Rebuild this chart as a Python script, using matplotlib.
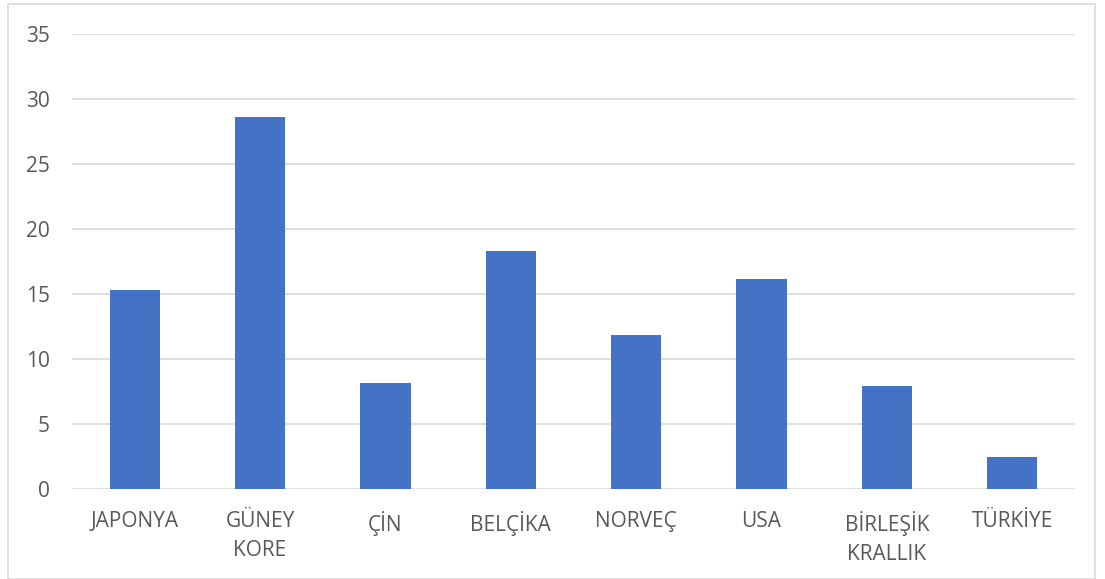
import matplotlib
matplotlib.use("Agg")
import matplotlib.pyplot as plt
from matplotlib.patches import Rectangle

# Ülkelere göre değerler
ulkeler = ["JAPONYA", "GÜNEY\nKORE", "ÇİN", "BELÇİKA", "NORVEÇ", "USA", "BİRLEŞİK\nKRALLIK", "TÜRKİYE"]
degerler = [15.3, 28.6, 8.1, 18.3, 11.8, 16.1, 7.9, 2.4]
y_ticks = [0, 5, 10, 15, 20, 25, 30, 35]

plt.rcParams['font.family'] = ['Open Sans', 'DejaVu Sans']

fig = plt.figure(figsize=(11.05, 5.79), dpi=100)
ax = fig.add_axes([72/1105, 1 - 488.7/579, (1075-72)/1105, (488.7-33.5)/579])

x = range(len(ulkeler))
ax.bar(x, degerler, width=0.4, color="#4472c4", zorder=3)

ax.set_xlim(-0.5, len(ulkeler) - 0.5)
ax.set_ylim(0, 35)
ax.set_yticks(y_ticks)
ax.set_xticks(list(x))
ax.set_xticklabels(ulkeler, linespacing=1.5)
ax.grid(axis="y", color="#d9d9d9", linewidth=1.2, zorder=0)
ax.tick_params(axis="y", length=0, pad=16, labelsize=15, labelcolor="#595959")
ax.tick_params(axis="x", length=0, pad=16, labelsize=15, labelcolor="#595959")
for s in ax.spines.values():
    s.set_visible(False)

# dış çerçeve
fig.patches.append(Rectangle((8/1105, 0), (1095-8)/1105, 1 - 4/579, transform=fig.transFigure,
                             fill=False, edgecolor="#d9d9d9", linewidth=1.2))

fig.savefig("out.png", dpi=100)
